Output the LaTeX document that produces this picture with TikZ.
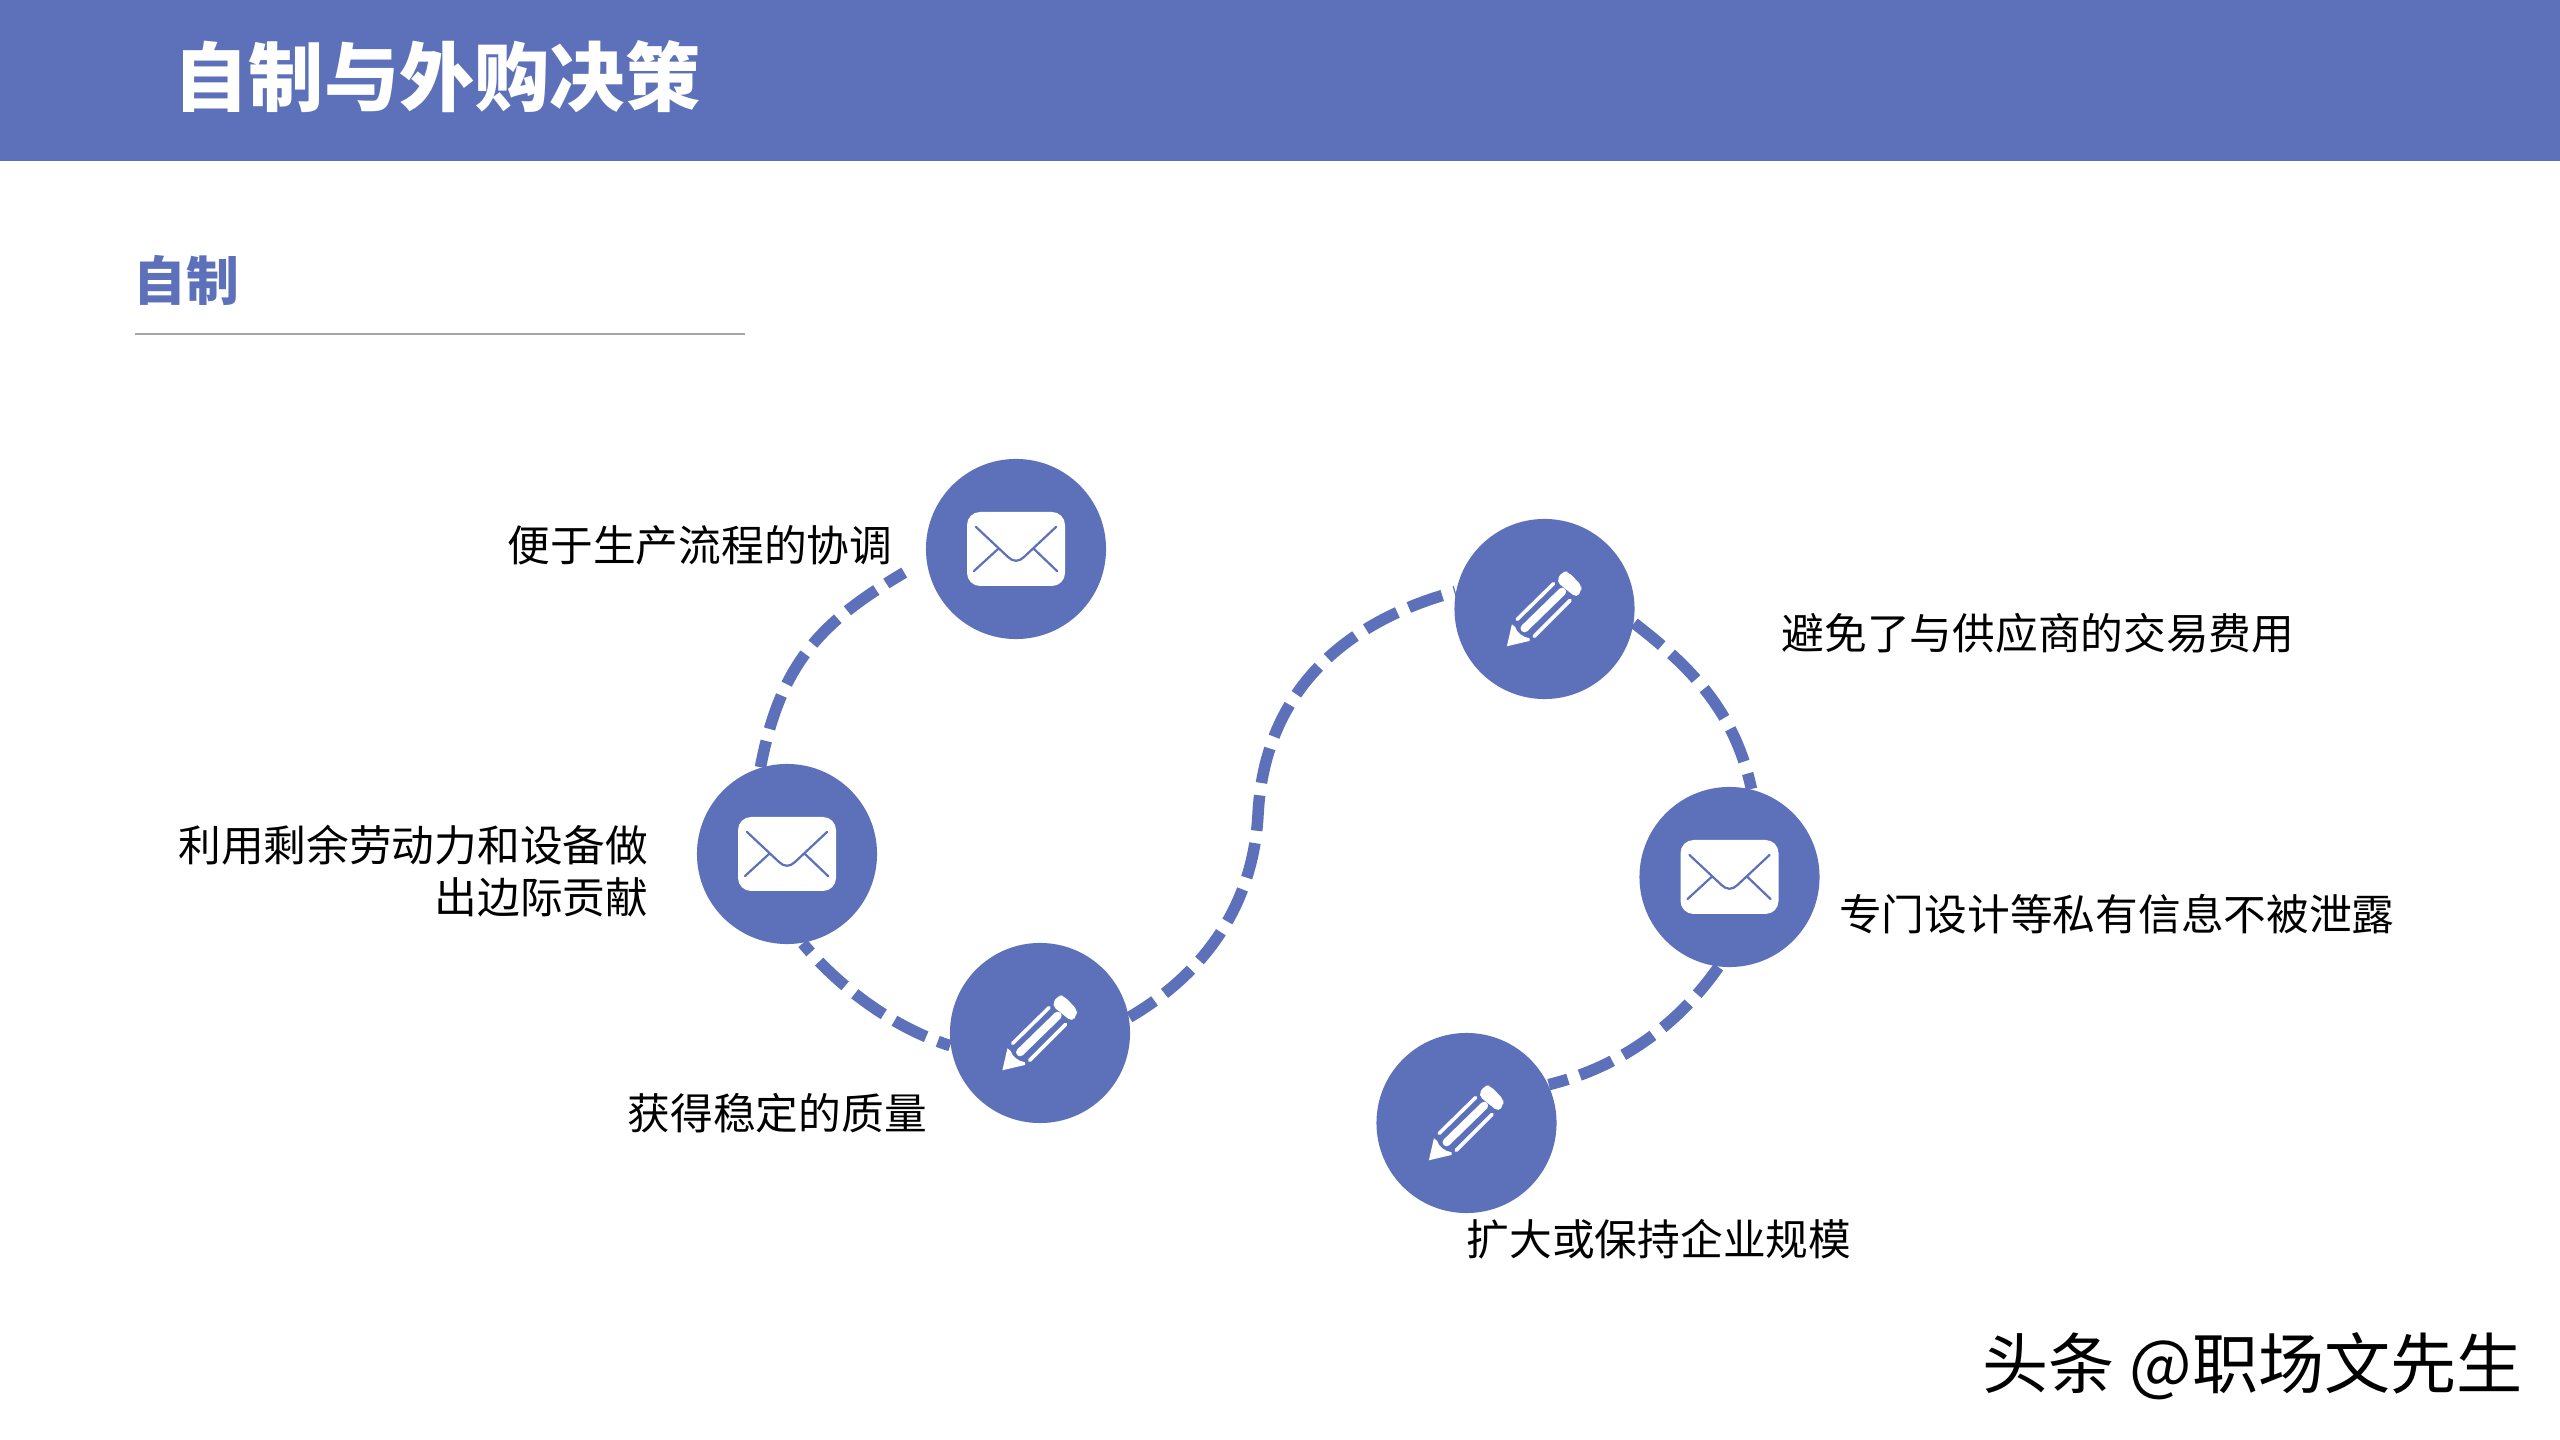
\documentclass[tikz,border=0pt]{standalone}
\usepackage{fontspec}
\setmainfont{Noto Sans CJK SC}
\definecolor{brand}{HTML}{5C71BA}
\definecolor{rulegray}{HTML}{A6A6A6}
\pgfdeclarelayer{paper}
\pgfdeclarelayer{links}
\pgfsetlayers{paper,links,main}
\tikzset{
  x=0.01cm,y=-0.01cm,
  disc/.style={circle,fill=brand,draw=none,minimum size=1.8cm,inner sep=0pt},
  lab/.style={inner sep=0pt,font=\fontsize{12.15pt}{14.8pt}\selectfont,text=black},
  link/.style={draw=brand,line width=0.115cm,dash pattern=on 0.355cm off 0.125cm},
  envicon/.pic={
    \fill[white,rounded corners=0.13cm] (-49,-37) rectangle (49,37);
    \draw[brand,line width=0.022cm,line cap=round,line join=round]
      (-40,-22) -- (-8,8) .. controls (-3,13) and (3,13) .. (8,8) -- (40,-22)
      (-42,22) -- (-18,0) (41,22) -- (18,0);
  },
  pencilicon/.pic={
    \begin{scope}[x=0.00333cm,y=-0.00333cm]
      \fill[white] (-98,46) -- (-113,112) -- (-45,96) -- (-45,88)
        .. controls (-65,85) and (-85,70) .. (-88,54) -- cycle;
      \fill[white,rounded corners=0.05cm] (35,-83) -- (55,-115) -- (72,-111) -- (112,-70) -- (110,-55) -- (97,-33) -- cycle;
      \draw[white,line width=0.036cm,line cap=round] (-82,31) -- (27,-76);
      \draw[white,line width=0.036cm,line cap=round] (-31,82) -- (77,-26);
      \draw[white,line width=0.08cm,line cap=round] (-60,58) -- (53,-52);
    \end{scope}
  }
}
\begin{document}
\begin{tikzpicture}
\useasboundingbox (0,0) rectangle (2560,1440);
\begin{pgfonlayer}{paper}
  \fill[white] (0,0) rectangle (2560,1440);
\end{pgfonlayer}
\fill[brand] (0,0) rectangle (2560,161);
\node[anchor=west,inner sep=0pt,text=white,font=\bfseries\fontsize{21.4pt}{25pt}\selectfont] (title) at (173,77) {自制与外购决策};
\node[anchor=west,inner sep=0pt,text=brand,font=\bfseries\fontsize{15pt}{18pt}\selectfont] (sub) at (133,280) {自制};
\coordinate (ruleA) at (135,334);
\coordinate (ruleB) at (745,334);
\draw[rulegray,line width=0.02cm] (ruleA) -- (ruleB);

\node[disc] (c1) at (1016,549) {};
\node[disc] (c2) at (787,854) {};
\node[disc] (c3) at (1040,1033) {};
\node[disc] (c4) at (1544.5,609) {};
\node[disc] (c5) at (1729.5,877) {};
\node[disc] (c6) at (1466.5,1123) {};
\pic at (c1) {envicon};
\pic at (c2) {envicon};
\pic at (c5) {envicon};
\pic at (c3) {pencilicon};
\pic at (c4) {pencilicon};
\pic at (c6) {pencilicon};

\begin{pgfonlayer}{links}
  \draw[link,dash pattern=on 0cm off 0.25cm on 0.21cm off 0.12cm on 0.355cm off 0.125cm on 0.355cm off 0.125cm on 0.355cm off 0.125cm on 0.355cm off 0.125cm on 0.355cm off 0.125cm on 0.6cm off 1cm]
    (c1.187) .. controls (827,616) and (782,655) .. (c2.107);
  \draw[link,dash phase=0.235cm]
    (c2.-80) .. controls (840,988) and (894,1028) .. (c3.188);
  \draw[link,dash phase=0.055cm]
    (c3.10) .. controls (1205,973) and (1253,905) .. (1258,815)
    .. controls (1264,695) and (1340,623) .. (c4.169);
  \draw[link]
    (c4.-9) .. controls (1695,670) and (1735,714) .. (c5.76);
  \draw[link,dash phase=0.01cm]
    (c5.-97) .. controls (1678,1025) and (1620,1067) .. (c6.25);
\end{pgfonlayer}

\node[lab,anchor=west] (t1) at (507,545) {便于生产流程的协调};
\node[lab,anchor=east,align=right] (t2) at (649,871) {利用剩余劳动力和设备做\\出边际贡献};
\node[lab,anchor=west] (t3) at (627,1113) {获得稳定的质量};
\node[lab,anchor=west] (t4) at (1781,633) {避免了与供应商的交易费用};
\node[lab,anchor=west] (t5) at (1838.5,914) {专门设计等私有信息不被泄露};
\node[lab,anchor=west] (t6) at (1466,1239) {扩大或保持企业规模};
\node[anchor=west,inner sep=0pt,text=black,font=\fontsize{18.8pt}{22pt}\selectfont] (wm) at (1982,1366) {头条 @职场文先生};
\end{tikzpicture}
\end{document}
